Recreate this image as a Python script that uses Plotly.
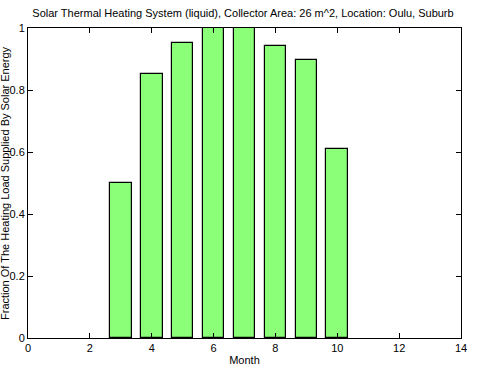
import plotly.graph_objects as go

months = [3, 4, 5, 6, 7, 8, 9, 10]
fraction = [0.50, 0.851, 0.951, 1.0, 1.0, 0.941, 0.896, 0.609]

title_text = "Solar Thermal Heating System (liquid), Collector Area: 26 m^2, Location: Oulu, Suburb"
x_title = "Month"
y_title = "Fraction Of The Heating Load Supplied By Solar Energy"

font = dict(family="Liberation Sans, Arial, sans-serif", size=11, color="black")

fig = go.Figure()
fig.add_trace(go.Bar(
    x=months, y=fraction, width=0.7,
    marker=dict(color="#8CFF78", line=dict(color="black", width=1.2)),
))

axis_common = dict(
    showline=True, linecolor="black", linewidth=1, mirror="ticks",
    ticks="inside", ticklen=5, tickcolor="black", tickwidth=1,
    showgrid=False, zeroline=False, tickfont=font,
)
fig.update_xaxes(range=[0, 14], dtick=2, title=dict(text=x_title, font=font, standoff=3), **axis_common)
fig.update_yaxes(range=[0, 1], tickvals=[0, 0.2, 0.4, 0.6, 0.8, 1],
                 ticktext=["0", "0.2", "0.4", "0.6", "0.8", "1"], **axis_common)

fig.add_annotation(text=y_title, textangle=-90, xref="paper", yref="paper",
                   x=0, y=0.5, xanchor="center", yanchor="middle", xshift=-23,
                   showarrow=False, font=font)

fig.update_layout(
    width=486, height=384,
    margin=dict(l=28, r=25, t=28, b=46, autoexpand=False),
    paper_bgcolor="white", plot_bgcolor="white",
    title=dict(text=title_text, x=0.5, xanchor="center", y=1 - 13/384, yanchor="middle", font=font),
    showlegend=False, font=font, bargap=0,
)

fig.write_html("out.html", config={"displayModeBar": False},
               post_script="document.body.style.margin='0';")
